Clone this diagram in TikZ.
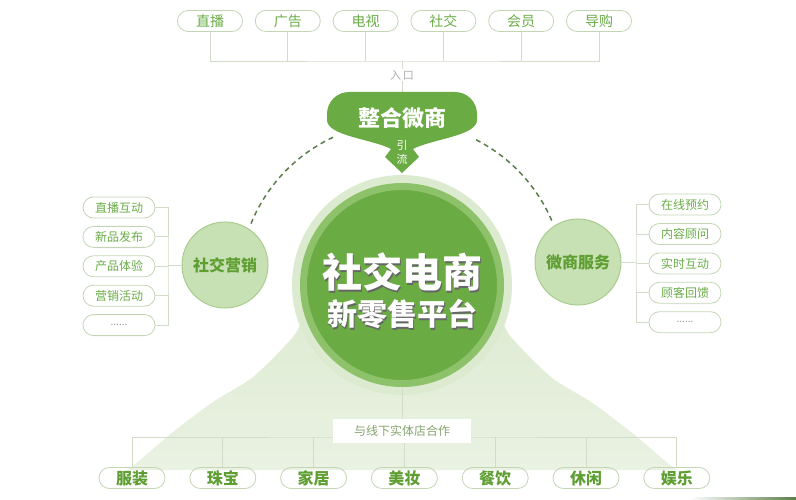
\documentclass[tikz,border=0pt]{standalone}
\usepackage{fontspec}
\setmainfont{Noto Sans CJK SC}
\usetikzlibrary{positioning}
\definecolor{hubgreen}{HTML}{6AAB43}
\definecolor{ringgreen}{HTML}{8DC26A}
\definecolor{halo}{HTML}{DCEBD0}
\definecolor{leafgreen}{HTML}{6AAC48}
\definecolor{deepgreen}{HTML}{5E9E32}
\definecolor{sidefill}{HTML}{C8E1B4}
\definecolor{sideline}{HTML}{A9CC8E}
\definecolor{tagline}{HTML}{C3D5B4}
\definecolor{wiregray}{HTML}{D2DCC8}
\definecolor{dashgreen}{HTML}{5B7D49}
\definecolor{bellgreen}{HTML}{DCEAD0}
\definecolor{belllight}{HTML}{EAF2E3}
\definecolor{labelgray}{HTML}{86A46F}

\begin{document}
\begin{tikzpicture}[x=1pt, y=-1pt,
	wire/.style = {draw = wiregray, line width = 0.8pt},
	dashlink/.style = {draw = dashgreen, line width = 1.5pt, dash pattern = on 5pt off 4pt},
	tag/.style = {draw = tagline, line width = 0.8pt, rounded corners = 10.5pt, minimum width = 65pt, minimum height = 21pt, inner sep = 0pt, text = leafgreen, font = \fontsize{14}{14}\selectfont},
	note/.style = {tag, minimum width = 72pt, font = \fontsize{12}{12}\selectfont},
	shop/.style = {tag, minimum width = 66pt, text = deepgreen, font = \fontsize{16}{16}\selectfont\bfseries},
	side/.style = {circle, minimum size = 86pt, inner sep = 0pt, fill = sidefill, draw = sideline, line width = 1pt, text = deepgreen, font = \fontsize{16}{16}\selectfont\bfseries},
	hubtext/.style = {inner sep = 0pt, text = white, font = \bfseries},
	hubshadow/.style = {hubtext, text = black!60}]
		\useasboundingbox (0,0) rectangle (796,500);
		\shade [top color = bellgreen, bottom color = belllight] plot [smooth] coordinates {(127,470) (140,460) (173,432) (213,402) (253,377) (293,337) (330,290) (474,290) (511,337) (551,377) (591,402) (631,432) (664,460) (677,470)} -- cycle;
		\shade [left color = white, right color = dashgreen] (690,497) rectangle (796,500);

		\node (top1) [tag] at (210,21) {直播};
		\node (top2) [tag, right = 12pt of top1] {广告};
		\node (top3) [tag, right = 12pt of top2] {电视};
		\node (top4) [tag, right = 12pt of top3] {社交};
		\node (top5) [tag, right = 12pt of top4] {会员};
		\node (top6) [tag, right = 12pt of top5] {导购};
		\coordinate (topbus) at (402,61);
		\coordinate (bubbletop) at (402,92);
		\node (entry) [inner sep = 1pt, text = gray!65, font = \fontsize{11}{11}\selectfont] at (402,75) {入\kern2pt 口};
		\draw [wire] (top1.south) |- (topbus) -| (top6.south);
		\draw [wire] (top2.south) -- (top2.south |- topbus);
		\draw [wire] (top3.south) -- (top3.south |- topbus);
		\draw [wire] (top4.south) -- (top4.south |- topbus);
		\draw [wire] (top5.south) -- (top5.south |- topbus);
		\draw [wire] (topbus) -- (entry);
		\draw [wire] (entry) -- (bubbletop);

		\fill [hubgreen] (349,92) -- (455,92) arc [start angle = 90, end angle = 0, radius = 22pt] -- (477,120) .. controls (477,136) and (432,139) .. (413,149) -- (419,157) -- (402,173) -- (385,157) -- (391,149) .. controls (372,139) and (327,136) .. (327,120) -- (327,114) arc [start angle = 180, end angle = 90, radius = 22pt] -- cycle;
		\node (merge) [inner sep = 0pt, text = white, font = \fontsize{22}{22}\selectfont\bfseries] at (402,118) {整合微商};
		\node (guide) [inner sep = 0pt, align = center, text = white, font = \fontsize{11}{14}\selectfont] at (402,152) {引\\流};

		\node (hub) [circle, minimum size = 197pt, inner sep = 0pt, fill = hubgreen, draw = ringgreen, line width = 7pt, preaction = {draw = halo, line width = 23pt}] at (402,285) {};
		\node (titleshadow) [hubshadow, font = \fontsize{40}{40}\selectfont\bfseries] at (403.8,273.8) {社交电商};
		\node (title) [hubtext, font = \fontsize{40}{40}\selectfont\bfseries] at (402,272) {社交电商};
		\node (subtitleshadow) [hubshadow, font = \fontsize{30}{30}\selectfont\bfseries] at (403.5,315.5) {新零售平台};
		\node (subtitle) [hubtext, font = \fontsize{30}{30}\selectfont\bfseries] at (402,314) {新零售平台};

		\node (social) [side] at (225,265) {社交营销};
		\node (service) [side] at (578,262) {微商服务};
		\draw [dashlink] (hub.center) ++(115:163pt) arc [start angle = 115, end angle = 159, radius = 163pt];
		\draw [dashlink] (hub.center) ++(63:163pt) arc [start angle = 63, end angle = 22, radius = 163pt];

		\node (lp1) [note] at (119,207.5) {直播互动};
		\node (lp2) [note, below = 7.6pt of lp1] {新品发布};
		\node (lp3) [note, below = 7.6pt of lp2] {产品体验};
		\node (lp4) [note, below = 7.6pt of lp3] {营销活动};
		\node (lp5) [note, below = 7.6pt of lp4, text = gray!80, font = \fontsize{10}{10}\selectfont] {......};
		\coordinate (lbrace) at (168,265);
		\draw [wire] (lp1.east) -| (lbrace) |- (lp5.east);
		\draw [wire] (lp2.east) -- (lp2.east -| lbrace);
		\draw [wire] (lp3.east) -- (lp3.east -| lbrace);
		\draw [wire] (lp4.east) -- (lp4.east -| lbrace);
		\draw [wire] (lbrace) -- (social);

		\node (rp1) [note] at (685,204.6) {在线预约};
		\node (rp2) [note, below = 7.6pt of rp1] {内容顾问};
		\node (rp3) [note, below = 7.6pt of rp2] {实时互动};
		\node (rp4) [note, below = 7.6pt of rp3] {顾客回馈};
		\node (rp5) [note, below = 7.6pt of rp4, text = gray!80, font = \fontsize{10}{10}\selectfont] {......};
		\coordinate (rbrace) at (636,262);
		\draw [wire] (rp1.west) -| (rbrace) |- (rp5.west);
		\draw [wire] (rp2.west) -- (rp2.west -| rbrace);
		\draw [wire] (rp3.west) -- (rp3.west -| rbrace);
		\draw [wire] (rp4.west) -- (rp4.west -| rbrace);
		\draw [wire] (rbrace) -- (service);

		\node (shop1) [shop] at (132,478) {服装};
		\node (shop2) [shop, right = 24pt of shop1] {珠宝};
		\node (shop3) [shop, right = 24pt of shop2] {家居};
		\node (shop4) [shop, right = 24pt of shop3] {美妆};
		\node (shop5) [shop, right = 24pt of shop4] {餐饮};
		\node (shop6) [shop, right = 24pt of shop5] {休闲};
		\node (shop7) [shop, right = 24pt of shop6] {娱乐};
		\coordinate (shopbus) at (402,437);
		\draw [wire] (shop1.north) |- (shopbus) -| (shop7.north);
		\draw [wire] (shop2.north) -- (shop2.north |- shopbus);
		\draw [wire] (shop3.north) -- (shop3.north |- shopbus);
		\draw [wire] (shop4.north) -- (shop4.north |- shopbus);
		\draw [wire] (shop5.north) -- (shop5.north |- shopbus);
		\draw [wire] (shop6.north) -- (shop6.north |- shopbus);
		\node (offline) [fill = white, minimum width = 138pt, minimum height = 24pt, inner sep = 0pt, text = labelgray, font = \fontsize{12}{12}\selectfont] at (402,431) {与线下实体店合作};
		\draw [wire] (hub) -- (offline);
\end{tikzpicture}
\end{document}
